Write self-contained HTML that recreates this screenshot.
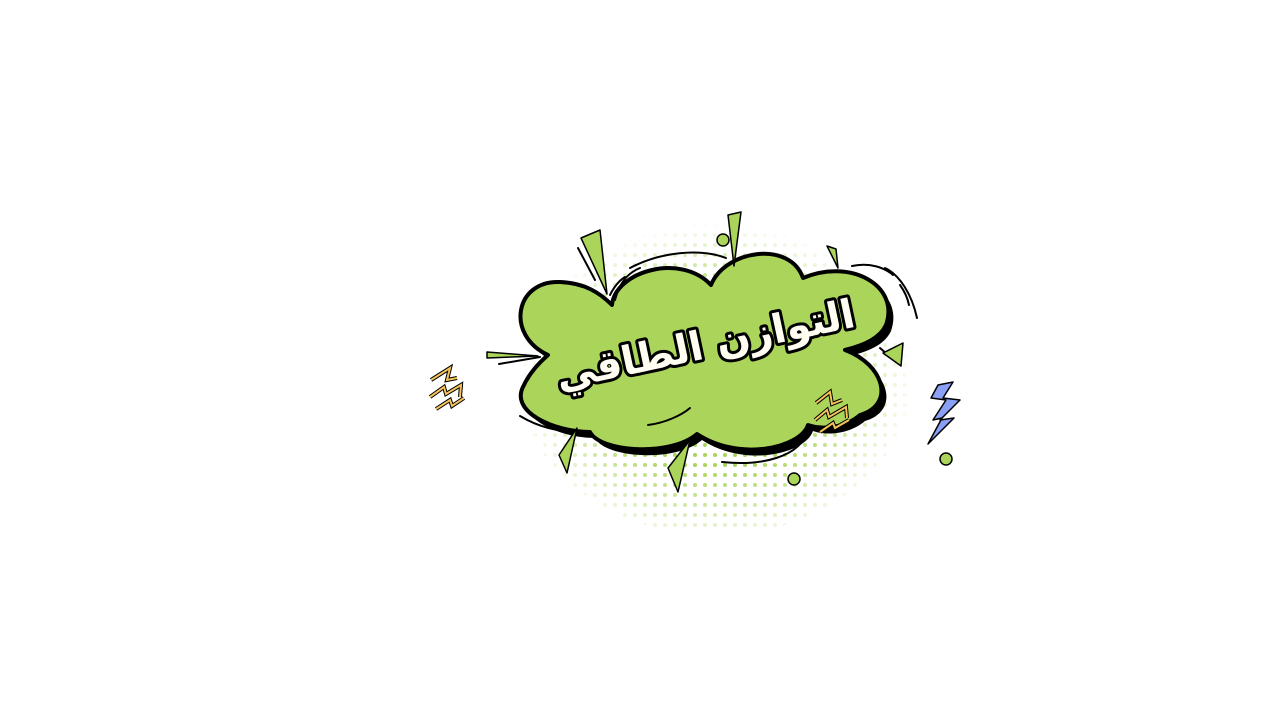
<!DOCTYPE html>
<html><head><meta charset="utf-8"><style>
html,body{margin:0;padding:0;background:#fff;width:1280px;height:720px;overflow:hidden}
</style></head><body>
<svg width="1280" height="720" viewBox="0 0 1280 720" xmlns="http://www.w3.org/2000/svg">
<defs>
<pattern id="dots" width="10" height="10" patternUnits="userSpaceOnUse">
<circle cx="5" cy="5" r="2" fill="#a9d45a"/>
</pattern>
<radialGradient id="rg" cx="0.5" cy="0.55" r="0.5">
<stop offset="0.5" stop-color="#fff"/>
<stop offset="1" stop-color="#000"/>
</radialGradient>
<mask id="m"><ellipse cx="715" cy="370" rx="200" ry="165" fill="url(#rg)"/></mask>
</defs>
<rect x="500" y="200" width="430" height="330" fill="url(#dots)" mask="url(#m)"/>

<g id="cloud">
<path transform="translate(5,6)" fill="#000" d="M548 355 C505 335 515 280 560 282 C585 283 600 293 612 305 C615 272 680 252 711 285 C725 250 790 240 803 278 C850 258 900 285 886 325 C880 338 865 345 845 350 C885 365 895 405 860 415 C845 428 822 430 808 425 C800 448 740 462 697 434 C670 457 600 452 590 432 C555 432 508 412 524 385 C530 372 540 362 548 355 Z"/>
<path fill="#abd55a" stroke="#000" stroke-width="4" stroke-linejoin="round" d="M548 355 C505 335 515 280 560 282 C585 283 600 293 612 305 C615 272 680 252 711 285 C725 250 790 240 803 278 C850 258 900 285 886 325 C880 338 865 345 845 350 C885 365 895 405 860 415 C845 428 822 430 808 425 C800 448 740 462 697 434 C670 457 600 452 590 432 C555 432 508 412 524 385 C530 372 540 362 548 355 Z"/>
</g>

<g fill="none" stroke="#000" stroke-width="2" stroke-linecap="round">
<path d="M615 300 C620 280 630 272 640 268"/>
<path d="M610 295 C615 285 620 280 625 277"/>
<path d="M630 268 C660 252 700 248 726 258"/>
<path d="M852 266 C870 262 885 268 893 275"/>
<path d="M885 268 C900 275 912 295 917 318"/>
<path d="M900 285 C905 292 908 300 909 305"/>
<path d="M520 416 C540 428 560 432 580 432"/>
<path d="M648 425 C665 423 682 415 690 408"/>
<path d="M722 462 C760 466 800 458 808 430"/>
<path d="M578 248 L595 280"/>
<path d="M499 364 L540 357"/>
<path d="M880 348 L896 362"/>
</g>

<g fill="#abd55a" stroke="#000" stroke-width="1.5" stroke-linejoin="round">
<polygon points="581,238 600,230 607,294"/>
<polygon points="728,215 741,212 734,266"/>
<polygon points="827,246 836,249 838,268"/>
<polygon points="487,352 487,358 538,356"/>
<polygon points="883,353 903,343 901,366"/>
<polygon points="559,455 577,428 567,473"/>
<polygon points="668,468 690,440 678,492"/>
<circle cx="723" cy="240" r="6"/>
<circle cx="794" cy="479" r="6"/>
<circle cx="946" cy="459" r="6"/>
</g>

<polygon points="938,385 953,382 943,398 960,400 940,420 954,418 928,444 942,418 933,420 946,400 931,398" fill="#8aa0f5" stroke="#000" stroke-width="1.5" stroke-linejoin="round"/>

<g fill="none" stroke="#000" stroke-width="4" stroke-linejoin="miter">
<polyline points="431,380 450,368 447,380 457,378"/>
<polyline points="430,397 444,387 446,394 461,385 460,397"/>
<polyline points="436,409 450,400 452,406 464,398"/>
<polyline points="816,403 830,392 832,404 842,400"/>
<polyline points="815,420 827,410 829,417 846,407 847,418"/>
<polyline points="820,432 833,423 835,428 849,420"/>
</g>
<g fill="none" stroke="#f4c35a" stroke-width="2" stroke-linejoin="miter">
<polyline points="431,380 450,368 447,380 457,378"/>
<polyline points="430,397 444,387 446,394 461,385 460,397"/>
<polyline points="436,409 450,400 452,406 464,398"/>
<polyline points="816,403 830,392 832,404 842,400"/>
<polyline points="815,420 827,410 829,417 846,407 847,418"/>
<polyline points="820,432 833,423 835,428 849,420"/>
</g>

<text x="0" y="0" transform="translate(708,358) rotate(-12)" text-anchor="middle" font-family="'DejaVu Sans','Noto Sans CJK SC',sans-serif" font-weight="bold" font-size="40" fill="#fffdf2" stroke="#000" stroke-width="6" paint-order="stroke" stroke-linejoin="round" direction="rtl">التوازن الطاقي</text>
</svg>
</body></html>
